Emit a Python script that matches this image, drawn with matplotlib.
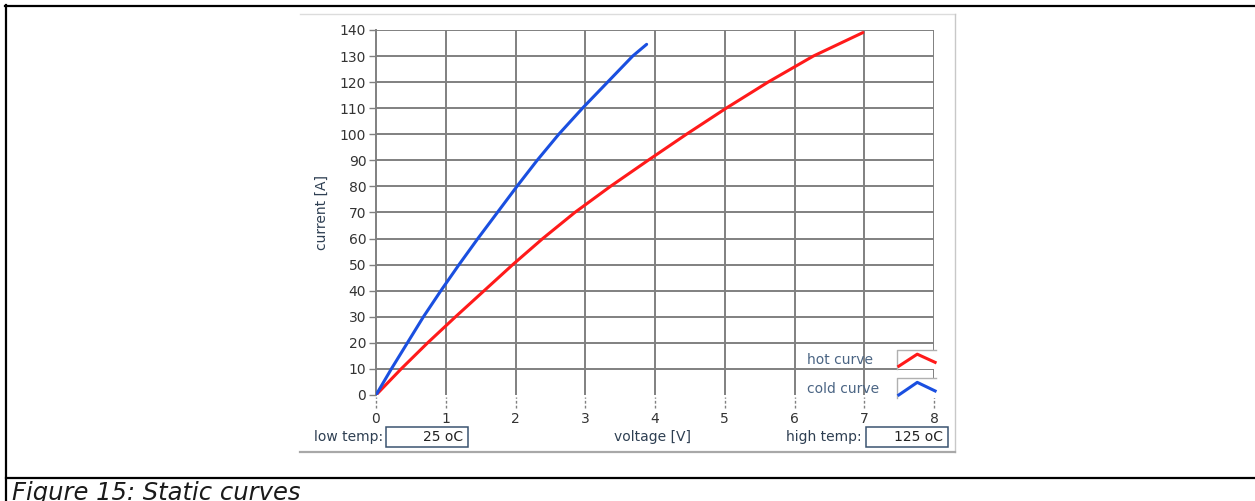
import matplotlib
matplotlib.use("Agg")
import matplotlib.pyplot as plt
from matplotlib.lines import Line2D
from matplotlib.patches import Rectangle

# data (voltage [V], current [A])
cold_v = [0.0, 0.22, 0.45, 0.68, 0.93, 1.19, 1.46, 1.74, 2.02, 2.31, 2.62, 2.96, 3.32, 3.68, 3.88]
cold_i = [0.0, 10.0, 20.0, 30.0, 40.0, 50.0, 60.0, 70.0, 80.0, 90.0, 100.0, 110.0, 120.0, 130.0, 134.5]
hot_v = [0.0, 0.36, 0.74, 1.14, 1.55, 1.96, 2.39, 2.85, 3.36, 3.90, 4.45, 5.02, 5.62, 6.27, 6.98]
hot_i = [0.0, 10.0, 20.0, 30.0, 40.0, 50.0, 60.0, 70.0, 80.0, 90.0, 100.0, 110.0, 120.0, 130.0, 139.0]

x_ticks = list(range(0, 9))
y_ticks = list(range(0, 141, 10))

low_temp = "25 oC"
high_temp = "125 oC"

GRID = "#808080"
TXT = "#333333"
LBL = "#2e3f52"
LEG = "#4b6584"
RED = "#ff1a1a"
BLUE = "#1a4fe0"

W, H = 1255, 501
fig = plt.figure(figsize=(W / 100, H / 100), dpi=100)
fig.patch.set_facecolor("white")


def fx(px):
    return px / W


def fy(py):
    return (H - py) / H


# page frame and chart panel borders
fig.add_artist(Line2D([fx(5), fx(1255)], [fy(5.5), fy(5.5)], color="black", lw=1.6))
fig.add_artist(Line2D([fx(6), fx(6)], [fy(5), fy(501)], color="black", lw=1.6))
fig.add_artist(Line2D([fx(6), fx(1255)], [fy(478), fy(478)], color="black", lw=1.6))
fig.add_artist(Line2D([fx(300), fx(955)], [fy(14), fy(14)], color="#dcdcdc", lw=1.0))
fig.add_artist(Line2D([fx(955), fx(955)], [fy(14), fy(452)], color="#c8c8c8", lw=1.0))
fig.add_artist(Line2D([fx(300), fx(955)], [fy(452), fy(452)], color="#a8a8a8", lw=1.6))

ax = fig.add_axes([fx(376), fy(395), (934 - 376) / W, (395 - 30) / H])
ax.set_xlim(0, 8)
ax.set_ylim(0, 140)

# grid: no line at current 0, left axis is the spine
ax.hlines(y_ticks[1:], 0, 8, colors=GRID, lw=1.4, zorder=1)
ax.vlines(x_ticks[1:], 0, 140, colors=GRID, lw=1.4, zorder=1)

for s in ["top", "right", "bottom"]:
    ax.spines[s].set_visible(False)
ax.spines["left"].set_color(GRID)
ax.spines["left"].set_linewidth(1.4)

ax.set_yticks(y_ticks)
ax.set_xticks(x_ticks)
ax.tick_params(axis="y", length=5, width=1, color=GRID, labelsize=10, labelcolor=TXT, pad=2)
ax.tick_params(axis="x", length=0, labelsize=10, labelcolor=TXT, pad=12)
ax.vlines(x_ticks, -0.035, -0.005, transform=ax.get_xaxis_transform(), colors=GRID,
          lw=1.0, linestyles=(0, (2, 1.5)), clip_on=False)

ax.plot(hot_v, hot_i, color=RED, lw=2.2, zorder=3, solid_capstyle="round")
ax.plot(cold_v, cold_i, color=BLUE, lw=2.2, zorder=3, solid_capstyle="round")

# legend drawn like the instrument panel
for (y0, y1), col, label, yt in [((0.0712, 0.1233), RED, "hot curve", 0.096),
                                 ((-0.008, 0.0466), BLUE, "cold curve", 0.017)]:
    ax.add_patch(Rectangle((0.934, y0), 0.07, y1 - y0, transform=ax.transAxes,
                           facecolor="white", edgecolor="none", zorder=4, clip_on=False))
    ax.add_line(Line2D([0.934, 0.934, 1.004], [y0, y1, y1], transform=ax.transAxes,
                       color="#b0b0b0", lw=1.0, zorder=5, clip_on=False))
    ym = y0 + 0.35 * (y1 - y0)
    ax.add_line(Line2D([0.937, 0.970, 1.002], [y0 + 0.15 * (y1 - y0), y1 - 0.22 * (y1 - y0), ym],
                       transform=ax.transAxes, color=col, lw=2.2, zorder=6, clip_on=False))
    ax.text(0.772, yt, label, transform=ax.transAxes, ha="left", va="center",
            fontsize=10, color=LEG, zorder=5)

fig.text(fx(322), fy(213), "current [A]", rotation=90, ha="center", va="center",
         fontsize=10, color=LBL)
fig.text(fx(652), fy(437), "voltage [V]", ha="center", va="center", fontsize=10, color=LBL)
fig.text(fx(383), fy(437), "low temp:", ha="right", va="center", fontsize=10, color=LBL)
fig.text(fx(862), fy(437), "high temp:", ha="right", va="center", fontsize=10, color=LBL)

for x0, x1, val in [(386, 468, low_temp), (866, 948, high_temp)]:
    fig.add_artist(Rectangle((fx(x0), fy(447)), fx(x1) - fx(x0), fy(427) - fy(447),
                             facecolor="white", edgecolor="#3a5470", lw=1.1))
    fig.text(fx(x1 - 5), fy(437), val, ha="right", va="center", fontsize=10, color="#222222")

fig.text(fx(12), fy(500), "Figure 15: Static curves", ha="left", va="baseline",
         fontsize=17.5, style="italic", color="#1a1a1a")

fig.savefig("out.png", dpi=100)
